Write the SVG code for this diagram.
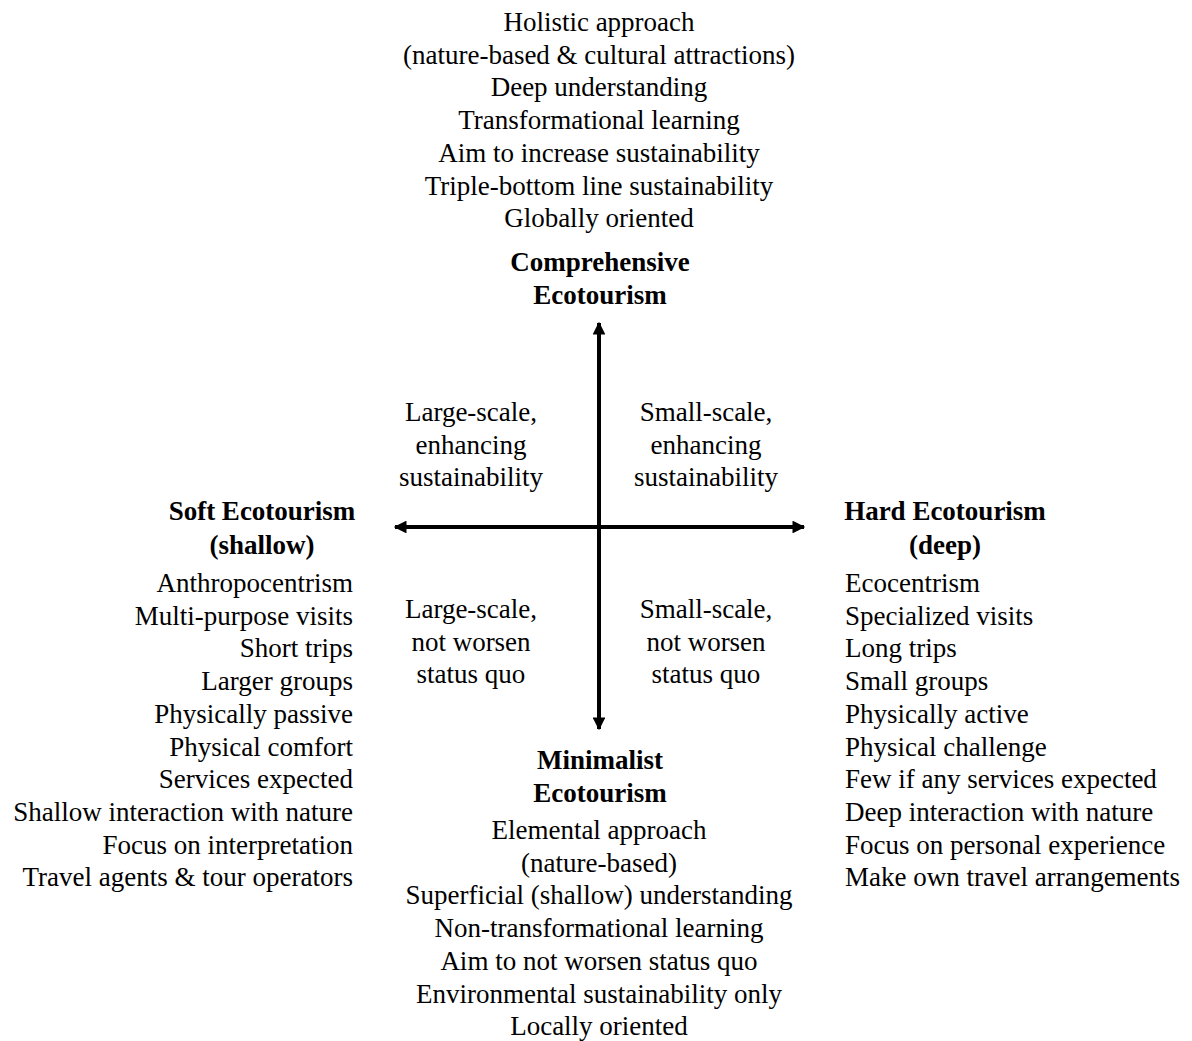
<svg xmlns="http://www.w3.org/2000/svg" width="1192" height="1041" viewBox="0 0 1192 1041">
<style>
text{font-family:"Liberation Serif","Times New Roman",serif;font-size:27px;fill:#000}
.b{font-weight:bold}
.c{text-anchor:middle}
.r{text-anchor:end}
.l{text-anchor:start}
.ax{stroke:#000;stroke-width:4;fill:none}
</style>
<defs>
<marker id="ah" viewBox="0 0 10 10" refX="9" refY="5" markerWidth="4" markerHeight="3.2" orient="auto" markerUnits="strokeWidth">
<path d="M0,0 L10,5 L0,10 Z" fill="#000"/>
</marker>
</defs>
<rect width="1192" height="1041" fill="#fff"/>
<g id="connectors">
<line class="ax" x1="599" y1="527" x2="599" y2="323" marker-end="url(#ah)"/>
<line class="ax" x1="599" y1="527" x2="599" y2="729" marker-end="url(#ah)"/>
<line class="ax" x1="599" y1="527" x2="395" y2="527" marker-end="url(#ah)"/>
<line class="ax" x1="599" y1="527" x2="804" y2="527" marker-end="url(#ah)"/>
</g>
<g id="comprehensive">
<text class="c" x="599" y="31">Holistic approach</text>
<text class="c" x="599" y="64">(nature-based &amp; cultural attractions)</text>
<text class="c" x="599" y="96">Deep understanding</text>
<text class="c" x="599" y="129">Transformational learning</text>
<text class="c" x="599" y="162">Aim to increase sustainability</text>
<text class="c" x="599" y="195">Triple-bottom line sustainability</text>
<text class="c" x="599" y="227">Globally oriented</text>
<text class="c b" x="600" y="271">Comprehensive</text>
<text class="c b" x="600" y="304">Ecotourism</text>
</g>
<g id="q-tl">
<text class="c" x="471" y="421">Large-scale,</text>
<text class="c" x="471" y="454">enhancing</text>
<text class="c" x="471" y="486">sustainability</text>
</g>
<g id="q-tr">
<text class="c" x="706" y="421">Small-scale,</text>
<text class="c" x="706" y="454">enhancing</text>
<text class="c" x="706" y="486">sustainability</text>
</g>
<g id="q-bl">
<text class="c" x="471" y="618">Large-scale,</text>
<text class="c" x="471" y="651">not worsen</text>
<text class="c" x="471" y="683">status quo</text>
</g>
<g id="q-br">
<text class="c" x="706" y="618">Small-scale,</text>
<text class="c" x="706" y="651">not worsen</text>
<text class="c" x="706" y="683">status quo</text>
</g>
<g id="soft">
<text class="c b" x="262" y="520">Soft Ecotourism</text>
<text class="c b" x="262" y="554">(shallow)</text>
<text class="r" x="353" y="592">Anthropocentrism</text>
<text class="r" x="353" y="625">Multi-purpose visits</text>
<text class="r" x="353" y="657">Short trips</text>
<text class="r" x="353" y="690">Larger groups</text>
<text class="r" x="353" y="723">Physically passive</text>
<text class="r" x="353" y="756">Physical comfort</text>
<text class="r" x="353" y="788">Services expected</text>
<text class="r" x="353" y="821">Shallow interaction with nature</text>
<text class="r" x="353" y="854">Focus on interpretation</text>
<text class="r" x="353" y="886">Travel agents &amp; tour operators</text>
</g>
<g id="hard">
<text class="c b" x="945" y="520">Hard Ecotourism</text>
<text class="c b" x="945" y="554">(deep)</text>
<text class="l" x="845" y="592">Ecocentrism</text>
<text class="l" x="845" y="625">Specialized visits</text>
<text class="l" x="845" y="657">Long trips</text>
<text class="l" x="845" y="690">Small groups</text>
<text class="l" x="845" y="723">Physically active</text>
<text class="l" x="845" y="756">Physical challenge</text>
<text class="l" x="845" y="788">Few if any services expected</text>
<text class="l" x="845" y="821">Deep interaction with nature</text>
<text class="l" x="845" y="854">Focus on personal experience</text>
<text class="l" x="845" y="886">Make own travel arrangements</text>
</g>
<g id="minimalist">
<text class="c b" x="600" y="769">Minimalist</text>
<text class="c b" x="600" y="802">Ecotourism</text>
<text class="c" x="599" y="839">Elemental approach</text>
<text class="c" x="599" y="872">(nature-based)</text>
<text class="c" x="599" y="904">Superficial (shallow) understanding</text>
<text class="c" x="599" y="937">Non-transformational learning</text>
<text class="c" x="599" y="970">Aim to not worsen status quo</text>
<text class="c" x="599" y="1003">Environmental sustainability only</text>
<text class="c" x="599" y="1035">Locally oriented</text>
</g>
</svg>
